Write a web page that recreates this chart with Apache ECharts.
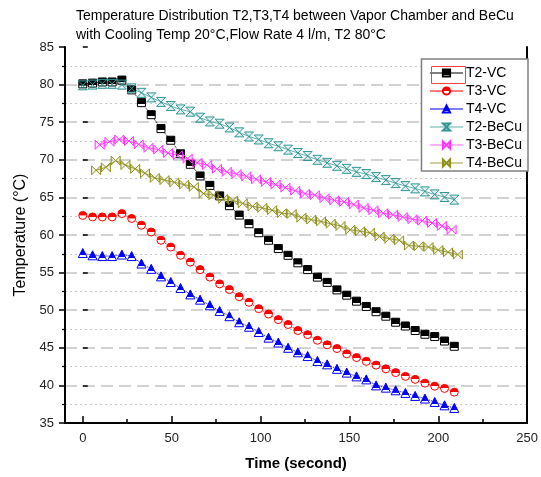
<!DOCTYPE html>
<html><head><meta charset="utf-8">
<script src="https://cdn.jsdelivr.net/npm/echarts@6/dist/echarts.min.js"></script>
<style>html,body{margin:0;padding:0;background:#fff}#c{width:541px;height:477px}</style>
</head><body><div id="c"></div>
<script>
// ---- data ----
const titleLines = ['Temperature Distribution T2,T3,T4 between Vapor Chamber and BeCu', 'with Cooling Temp 20\u00B0C,Flow Rate 4 l/m, T2 80\u00B0C'];
const seriesNames = ['T2-VC', 'T3-VC', 'T4-VC', 'T2-BeCu', 'T3-BeCu', 'T4-BeCu'];
const xMajorTicks = [0, 50, 100, 150, 200, 250];
const xMinorTicks = [25, 75, 125, 175, 225];

const timeVC = [0,5.5,11,16.5,22,27.5,33,38.5,44,49.5,55,60.5,66,71.5,77,82.5,88,93.5,99,104.5,110,115.5,121,126.5,132,137.5,143,148.5,154,159.5,165,170.5,176,181.5,187,192.5,198,203.5,209];
const timeT3BeCu = [9.5,15,20.5,26,31.5,37,42.5,48,53.5,59,64.5,70,75.5,81,86.5,92,97.5,103,108.5,114,119.5,125,130.5,136,141.5,147,152.5,158,163.5,169,174.5,180,185.5,191,196.5,202,207.5];
const timeT4BeCu = [7.5,13,18.5,24,29.5,35,40.5,46,51.5,57,62.5,68,73.5,79,84.5,90,95.5,101,106.5,112,117.5,123,128.5,134,139.5,145,150.5,156,161.5,167,172.5,178,183.5,189,194.5,200,205.5,211];

const t2VC = [80.1,80.2,80.35,80.35,80.6,79.3,77.6,76.0,74.15,72.6,70.8,69.4,67.85,66.6,65.2,63.9,62.65,61.5,60.3,59.3,58.2,57.3,56.3,55.4,54.4,53.7,52.7,52.0,51.2,50.5,49.8,49.2,48.4,47.9,47.3,46.8,46.5,45.9,45.2];
const t3VC = [62.6,62.4,62.4,62.4,62.85,62.2,61.3,60.4,59.3,58.4,57.3,56.4,55.4,54.4,53.5,52.75,51.8,51.05,50.2,49.5,48.75,48.1,47.3,46.75,46.0,45.4,44.9,44.2,43.7,43.2,42.7,42.2,41.7,41.2,40.8,40.3,39.9,39.6,39.1];
const t4VC = [57.6,57.3,57.2,57.2,57.4,57.2,56.2,55.5,54.5,53.75,52.95,52.1,51.4,50.65,49.9,49.2,48.4,47.8,47.1,46.35,45.7,45.0,44.4,43.9,43.25,42.8,42.2,41.7,41.2,40.8,40.0,39.7,39.35,39.0,38.6,38.25,37.8,37.35,37.0];
const t2BeCu = [79.9,80.0,80.1,80.1,80.0,79.5,78.9,78.3,77.7,77.15,76.7,76.4,75.6,75.1,74.8,74.3,73.65,73.1,72.7,72.2,71.8,71.35,70.9,70.5,70.0,69.6,69.2,68.8,68.4,68.1,67.7,67.3,66.9,66.5,66.2,65.8,65.4,65.05,64.7];
const t3BeCu = [72.0,72.4,72.7,72.5,72.05,71.6,71.35,70.9,70.6,70.15,69.6,69.3,68.8,68.4,68.1,67.8,67.4,67.05,66.7,66.3,65.9,65.5,65.3,64.9,64.6,64.4,64.05,63.6,63.3,62.9,62.7,62.4,62.1,61.9,61.6,61.2,60.7];
const t4BeCu = [68.6,69.0,69.9,69.3,68.8,68.2,67.6,67.3,67.0,66.7,66.4,65.5,65.3,64.8,64.6,64.2,63.8,63.6,63.3,62.9,62.8,62.3,62.05,61.8,61.5,61.2,60.7,60.5,60.3,59.8,59.5,59.3,58.6,58.5,58.4,58.0,57.7,57.4];

// ---- chart ----
const FONT = 'Liberation Sans, Arial, sans-serif';
function pairs(xs, ys) { return xs.map((x, i) => [x, ys[i]]); }
function halfFill(top, bottom, split) {
  return new echarts.graphic.LinearGradient(0, 0, 0, 1, [
    {offset: 0, color: top}, {offset: split, color: top},
    {offset: split + 0.01, color: bottom}, {offset: 1, color: bottom}]);
}
const hourglassV = 'path://M0,0L10,0L0,10L10,10Z';
const bowtieH = 'path://M0,0L10,10L10,0L0,10Z';

const cfg = [
  {x: timeVC, y: t2VC, color: '#000000', lineColor: '#000000', symbol: 'rect', size: 8, fill: halfFill('#000', '#fff', 0.68), line: 'dotted'},
  {x: timeVC, y: t3VC, color: '#ff0000', lineColor: '#ff0000', symbol: 'circle', size: 8, fill: halfFill('#ff0000', '#fff', 0.5), line: 'dotted'},
  {x: timeVC, y: t4VC, color: '#0000ff', lineColor: '#0000ff', symbol: 'triangle', size: 9, fill: halfFill('#0000ff', '#fff', 0.72), line: 'dotted'},
  {x: timeVC, y: t2BeCu, color: '#2f9595', lineColor: '#5fb0b0', symbol: hourglassV, size: 9, fill: 'rgba(0,128,128,0.12)', line: 'solid'},
  {x: timeT3BeCu, y: t3BeCu, color: '#ff33ff', lineColor: '#ff66ff', symbol: bowtieH, size: 9, fill: 'rgba(255,0,255,0.12)', line: 'solid'},
  {x: timeT4BeCu, y: t4BeCu, color: '#8f8f1a', lineColor: '#a0a040', symbol: bowtieH, size: 9, fill: 'rgba(128,128,0,0.12)', line: 'solid'}
];

const series = cfg.map((c, i) => ({
  name: seriesNames[i],
  type: 'line',
  xAxisIndex: 0, yAxisIndex: 0,
  data: pairs(c.x, c.y),
  symbol: c.symbol,
  symbolSize: c.size,
  showAllSymbol: true,
  animation: false,
  lineStyle: {color: c.lineColor, width: 1, type: c.line},
  itemStyle: {color: c.fill, borderColor: c.color, borderWidth: 1}
}));

const chart = echarts.init(document.getElementById('c'), null, {renderer: 'canvas'});
chart.setOption({
  backgroundColor: '#ffffff',
  animation: false,
  title: {
    text: titleLines.join('\n'),
    left: 71, top: 2,
    textStyle: {fontFamily: FONT, fontSize: 14, fontWeight: 'normal', color: '#000', lineHeight: 19}
  },
  grid: {left: 65, right: 10, top: 47, bottom: 54, containLabel: false},
  legend: {
    orient: 'vertical', right: 13, top: 59,
    itemWidth: 33, itemHeight: 9, itemGap: 2,
    padding: [6, 6, 0, 8],
    borderColor: '#808080', borderWidth: 1.5,
    backgroundColor: '#fff',
    textStyle: {fontFamily: FONT, fontSize: 14, color: '#000', padding: [0, 0, 0, -2], lineHeight: 16},
    lineStyle: {type: 'solid', width: 1, opacity: 1},
    data: seriesNames
  },
  xAxis: [
    {
      type: 'value', min: -10, max: 250, position: 'bottom',
      axisLine: {show: true, onZero: false, lineStyle: {color: '#000', width: 2}},
      axisTick: {show: true, inside: true, length: 7, customValues: xMajorTicks, lineStyle: {color: '#000', width: 1.5}},
      axisLabel: {customValues: xMajorTicks, fontFamily: FONT, fontSize: 13, color: '#222', margin: 9},
      splitLine: {show: false},
      name: 'Time (second)', nameLocation: 'middle', nameGap: 33,
      nameTextStyle: {fontFamily: FONT, fontSize: 15, fontWeight: 'bold', color: '#000'}
    },
    {
      type: 'value', min: -10, max: 250, position: 'bottom',
      axisLine: {show: false},
      axisTick: {show: true, inside: true, length: 4, customValues: xMinorTicks, lineStyle: {color: '#000', width: 1.5}},
      axisLabel: {show: false},
      splitLine: {show: false}
    }
  ],
  yAxis: [
    {
      type: 'value', min: 35, max: 85, interval: 5, position: 'left',
      axisLine: {show: true, onZero: false, lineStyle: {color: '#000', width: 2}},
      axisTick: {show: true, inside: false, length: 6, lineStyle: {color: '#000', width: 1.5}},
      minorTick: {show: true, splitNumber: 2, length: 3, lineStyle: {color: '#000', width: 1.2}},
      axisLabel: {fontFamily: FONT, fontSize: 13, color: '#222', margin: 11},
      splitLine: {show: true, showMinLine: false, showMaxLine: false, lineStyle: {color: '#c4c4c4', width: 1.5, type: [12, 6]}},
      minorSplitLine: {show: true, lineStyle: {color: '#c8c8c8', width: 1, type: [2, 3]}},
      name: 'Temperature (\u00B0C)', nameLocation: 'middle', nameGap: 33, nameRotate: 90,
      nameTextStyle: {fontFamily: FONT, fontSize: 16, color: '#000'}
    },
    {
      type: 'value', min: 35, max: 85, interval: 5, position: 'left',
      axisLine: {show: false},
      axisTick: {show: true, inside: true, length: 5, lineStyle: {color: '#000', width: 1.5}},
      axisLabel: {show: false},
      splitLine: {show: false}
    },
    {
      type: 'value', min: 35, max: 85, interval: 5, position: 'right',
      axisLine: {show: true, onZero: false, lineStyle: {color: '#000', width: 2}},
      axisTick: {show: false}, axisLabel: {show: false}, splitLine: {show: false}
    }
  ],
  graphic: [{
    type: 'rect', left: 429, top: 64, z: 100,
    shape: {width: 34, height: 17},
    style: {fill: 'none', stroke: '#ff4040', lineWidth: 1}
  }],
  series: series
});
</script>
</body></html>
